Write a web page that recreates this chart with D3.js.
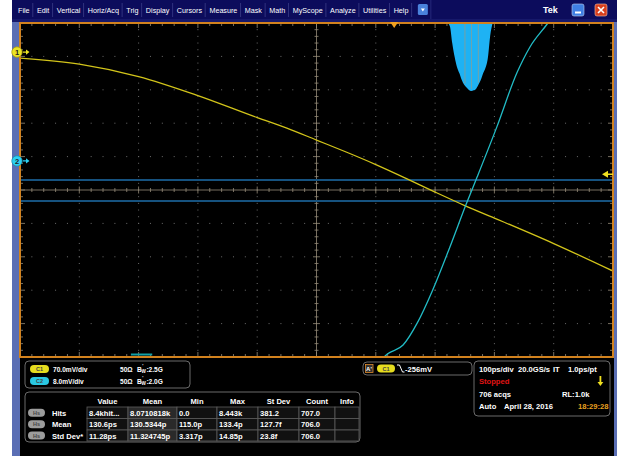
<!DOCTYPE html>
<html>
<head>
<meta charset="utf-8">
<script src="https://cdn.jsdelivr.net/npm/d3@7"></script>
<style>
  body { margin: 0; background: #fff; }
  svg  { display: block; font-family: "Liberation Sans", Arial, sans-serif; }
</style>
</head>
<body>
<svg id="scope" width="622" height="456"></svg>
<script>
// ---- data ----
const menuItems = ["File","Edit","Vertical","Horiz/Acq","Trig","Display","Cursors","Measure","Mask","Math","MyScope","Analyze","Utilities","Help"];

// time in ps from screen centre, level in mV
const ch1Time = [-500,-400,-300,-200,-100,-50,0,50,100,150,200,250,300,400,500];
const ch1Volt = [-12.6,-25.1,-51.3,-91.2,-137.3,-159.3,-184.4,-209.5,-235.8,-264.1,-293.4,-321.7,-347.9,-401.4,-459.0];
const ch2Time = [110,120,146,170,196,225,252,271,304,338,360,389,400];
const ch2Volt = [-47.5,-46.2,-44.1,-38.8,-30.9,-20.6,-10.5,-3.8,8.1,21.1,27.3,32.8,35.0];

// timing histogram (hangs from the top edge)
const histTime = [221,225,229,233,237,241,245,249,253,257,261,265,269,273,277,281,285,289,293,297];
const histHits = [0,420,2530,4220,5490,6250,7090,7680,8020,8320,8443,8360,8190,7680,7090,6250,5570,4310,1520,0];
const histMeanPs = 130.6, histSdPs = 11.28;

const channels = [
  { name: "C1", scale: "70.0mV/div", imp: "50Ω", bw: "2.5G", color: "#e6dc1e" },
  { name: "C2", scale: "8.0mV/div",  imp: "50Ω", bw: "2.0G", color: "#2ac8e2" }
];
const measCols = ["Value","Mean","Min","Max","St Dev","Count","Info"];
const measRows = ["Hits","Mean","Std Dev*"];
const measVals = [
  ["8.4khit...","8.0710818k","0.0","8.443k","381.2","707.0",""],
  ["130.6ps","130.5344p","115.0p","133.4p","127.7f","706.0",""],
  ["11.28ps","11.324745p","3.317p","14.85p","23.8f","706.0",""]
];
const trigLevel = -256;   // mV on C1
const trigTime  = 131;    // ps
const ch1Pos = 4.13, ch2Pos = 0.87;   // divisions
const ch1Div = 70, ch2Div = 8;        // mV/div
const histBox = [0.3, -0.33];         // divisions

// ---- layout ----
const svg = d3.select("#scope");
const gx0 = 20, gx1 = 613, gy0 = 23, gy1 = 357;
const x   = d3.scaleLinear().domain([-500, 500]).range([gx0, gx1]);
const dv  = d3.scaleLinear().domain([-5, 5]).range([gy1, gy0]);
const y1  = v => dv(v / ch1Div + ch1Pos);
const y2  = v => dv(v / ch2Div + ch2Pos);
const hLen = d3.scaleLinear().domain([0, d3.max(histHits)]).range([0, 68]);

// screen frame
svg.append("rect").attr("x", 12).attr("y", 0).attr("width", 605).attr("height", 456).attr("fill", "#5a6eb4");
svg.append("rect").attr("x", 20).attr("y", 357).attr("width", 594).attr("height", 99).attr("fill", "#000");
svg.append("rect").attr("x", 12).attr("y", 0).attr("width", 605).attr("height", 22).attr("fill", "#16186a");
svg.append("rect").attr("x", 12).attr("y", 0).attr("width", 605).attr("height", 19).attr("fill", "#0c0c5c");

// menu bar
const menu = svg.append("g").attr("font-size", 7.2).attr("fill", "#fff");
let mx = 18;
menuItems.forEach(m => {
  const t = menu.append("text").attr("x", mx).attr("y", 12.5).text(m);
  const w = t.node().getComputedTextLength();
  const sx = mx + w + 3.2;
  menu.append("line").attr("x1", sx).attr("x2", sx).attr("y1", 3).attr("y2", 17)
    .attr("stroke", "#3a3c88").attr("stroke-width", 0.8);
  mx = sx + 4.2;
});
svg.append("rect").attr("x", mx + 2).attr("y", 4).attr("width", 10).attr("height", 11).attr("rx", 1.5).attr("fill", "#4a82dc");
svg.append("path").attr("d", `M${mx + 5},8.5 L${mx + 9},8.5 L${mx + 7},11.5 Z`).attr("fill", "#fff");
svg.append("line").attr("x1", mx + 15).attr("x2", mx + 15).attr("y1", 0).attr("y2", 19).attr("stroke", "#26287a");
svg.append("text").attr("x", 543).attr("y", 13).attr("font-size", 9).attr("font-weight", "bold").attr("fill", "#fff").text("Tek");
svg.append("rect").attr("x", 572).attr("y", 4).attr("width", 12).attr("height", 12).attr("rx", 2).attr("fill", "#3f7fe2").attr("stroke", "#bcd0f4").attr("stroke-width", 0.6);
svg.append("rect").attr("x", 575).attr("y", 11.5).attr("width", 6).attr("height", 2).attr("fill", "#fff");
svg.append("rect").attr("x", 595).attr("y", 4).attr("width", 12).attr("height", 12).attr("rx", 2).attr("fill", "#d8401e").attr("stroke", "#f4c0a8").attr("stroke-width", 0.6);
svg.append("path").attr("d", "M598,7 L604,13 M604,7 L598,13").attr("stroke", "#fff").attr("stroke-width", 1.6);

// graticule
svg.append("rect").attr("x", gx0).attr("y", gy0).attr("width", gx1 - gx0).attr("height", gy1 - gy0).attr("fill", "#000");
const grid = svg.append("g");
const minorX = d3.range(-500, 500.1, 20);
const minorY = d3.range(-5, 5.01, 0.2);
// dotted division lines
d3.range(-400, 401, 100).filter(t => t !== 0).forEach(t => {
  grid.selectAll(null).data(minorY).join("rect")
    .attr("x", x(t) - 0.5).attr("y", d => dv(d) - 0.5).attr("width", 1).attr("height", 1).attr("fill", "#6c6c6c");
});
d3.range(-4, 5, 1).filter(d => d !== 0).forEach(d => {
  grid.selectAll(null).data(minorX).join("rect")
    .attr("x", t => x(t) - 0.5).attr("y", dv(d) - 0.5).attr("width", 1).attr("height", 1).attr("fill", "#6c6c6c");
});
// centre cross with ticks
const gc = "#958c78";
grid.append("line").attr("x1", gx0).attr("x2", gx1).attr("y1", dv(0)).attr("y2", dv(0)).attr("stroke", gc).attr("stroke-width", 0.8);
grid.append("line").attr("x1", x(0)).attr("x2", x(0)).attr("y1", gy0).attr("y2", gy1).attr("stroke", gc).attr("stroke-width", 0.8);
const isMajX = t => Math.abs(t % 100) < 1e-6;
const isMajY = d => Math.abs(Math.round(d) - d) < 1e-6;
grid.selectAll(null).data(minorX).join("line")
  .attr("x1", x).attr("x2", x)
  .attr("y1", t => dv(0) - (isMajX(t) ? 3.5 : 2)).attr("y2", t => dv(0) + (isMajX(t) ? 3.5 : 2))
  .attr("stroke", gc).attr("stroke-width", 0.8);
grid.selectAll(null).data(minorY).join("line")
  .attr("y1", dv).attr("y2", dv)
  .attr("x1", d => x(0) - (isMajY(d) ? 3.5 : 2)).attr("x2", d => x(0) + (isMajY(d) ? 3.5 : 2))
  .attr("stroke", gc).attr("stroke-width", 0.8);
// edge ticks
grid.selectAll(null).data(minorX).join("line")
  .attr("x1", x).attr("x2", x).attr("y1", gy0).attr("y2", t => gy0 + (isMajX(t) ? 5 : 3))
  .attr("stroke", gc).attr("stroke-width", 0.8);
grid.selectAll(null).data(minorX).join("line")
  .attr("x1", x).attr("x2", x).attr("y1", gy1).attr("y2", t => gy1 - (isMajX(t) ? 5 : 3))
  .attr("stroke", gc).attr("stroke-width", 0.8);
grid.selectAll(null).data(minorY).join("line")
  .attr("y1", dv).attr("y2", dv).attr("x1", gx0).attr("x2", d => gx0 + (isMajY(d) ? 5 : 3))
  .attr("stroke", gc).attr("stroke-width", 0.8);
grid.selectAll(null).data(minorY).join("line")
  .attr("y1", dv).attr("y2", dv).attr("x1", gx1).attr("x2", d => gx1 - (isMajY(d) ? 5 : 3))
  .attr("stroke", gc).attr("stroke-width", 0.8);

svg.append("clipPath").attr("id", "clip").append("rect")
  .attr("x", gx0).attr("y", gy0).attr("width", gx1 - gx0).attr("height", gy1 - gy0);
const plot = svg.append("g").attr("clip-path", "url(#clip)");

// histogram box limits
histBox.forEach(d => {
  plot.append("line").attr("x1", gx0).attr("x2", gx1).attr("y1", dv(d)).attr("y2", dv(d))
    .attr("stroke", "#16527f").attr("stroke-width", 1.8);
});

// histogram
const hist = histTime.map((t, i) => ({ t, h: histHits[i] }));
plot.append("path").datum(hist)
  .attr("d", d3.area().x(d => x(d.t)).y0(gy0).y1(d => gy0 + hLen(d.h)).curve(d3.curveMonotoneX))
  .attr("fill", "#1eb2f4");
const hAt = t => {
  const i = d3.bisectLeft(histTime, t);
  const a = i - 1, f = (t - histTime[a]) / (histTime[i] - histTime[a]);
  return histHits[a] + f * (histHits[i] - histHits[a]);
};
[-1, 0, 1].forEach(k => {
  const t = trigTime + histMeanPs + k * histSdPs;
  plot.append("line").attr("x1", x(t)).attr("x2", x(t)).attr("y1", gy0).attr("y2", gy0 + hLen(hAt(t)) - 2)
    .attr("stroke", "#b49870").attr("stroke-width", 0.7).attr("opacity", 0.85);
});

// traces
const line = d3.line().curve(d3.curveMonotoneX);
plot.append("path")
  .attr("d", line(ch1Time.map((t, i) => [x(t), y1(ch1Volt[i])])))
  .attr("fill", "none").attr("stroke", "#d2c41a").attr("stroke-width", 1.3);
plot.append("path")
  .attr("d", line(ch2Time.map((t, i) => [x(t), y2(ch2Volt[i])])))
  .attr("fill", "none").attr("stroke", "#22bcc6").attr("stroke-width", 1.3);
svg.append("rect").attr("x", x(-313)).attr("y", gy1 - 3.5).attr("width", x(-277) - x(-313)).attr("height", 2).attr("fill", "#12a0a4");

// border
svg.append("rect").attr("x", gx0).attr("y", gy0).attr("width", gx1 - gx0).attr("height", gy1 - gy0)
  .attr("fill", "none").attr("stroke", "#d2821e").attr("stroke-width", 2);

// markers
svg.append("path").attr("d", `M${x(trigTime) - 4},${gy0 - 1} L${x(trigTime) + 4},${gy0 - 1} L${x(trigTime)},${gy0 + 5} Z`).attr("fill", "#f0a020");
const tly = y1(trigLevel);
svg.append("path").attr("d", `M602,${tly} L608,${tly - 3.5} L608,${tly + 3.5} Z M607,${tly - 0.8} L613,${tly - 0.8} L613,${tly + 0.8} L607,${tly + 0.8} Z`).attr("fill", "#f0e020");
[[ch1Pos, "1", "#ece424", "#a89a10"], [ch2Pos, "2", "#2cd0f2", "#1890b0"]].forEach(([p, lbl, c, s]) => {
  const cy = dv(p);
  svg.append("circle").attr("cx", 17).attr("cy", cy).attr("r", 5.2).attr("fill", c).attr("stroke", s).attr("stroke-width", 0.8);
  svg.append("text").attr("x", 17).attr("y", cy + 2.6).attr("text-anchor", "middle").attr("font-size", 7.5).attr("font-weight", "bold").attr("fill", "#222").text(lbl);
  svg.append("path").attr("d", `M23,${cy - 0.6} L26,${cy - 0.6} L26,${cy - 2.6} L29.5,${cy} L26,${cy + 2.6} L26,${cy + 0.6} L23,${cy + 0.6} Z`).attr("fill", c);
});

// ---- readout panels ----
const panel = (px, py, w, h) => svg.append("rect").attr("x", px).attr("y", py).attr("width", w).attr("height", h)
  .attr("rx", 4).attr("fill", "#000").attr("stroke", "#6a6a6a").attr("stroke-width", 1);
const badge = (bx, by, w, txt, c) => {
  svg.append("rect").attr("x", bx).attr("y", by - 4).attr("width", w).attr("height", 8).attr("rx", 4).attr("fill", c);
  svg.append("text").attr("x", bx + w / 2).attr("y", by + 2).attr("text-anchor", "middle")
    .attr("font-size", 5.5).attr("font-weight", "bold").attr("fill", "#444").text(txt);
};
const txt = (tx, ty, s, c = "#fff", anchor = "start", fs = 7.6) => svg.append("text").attr("x", tx).attr("y", ty)
  .attr("font-size", fs).attr("font-weight", "bold").attr("fill", c).attr("text-anchor", anchor).text(s);

// channels
panel(25, 361, 165, 27);
channels.forEach((c, i) => {
  const cy = 369 + i * 12;
  badge(30, cy, 19, c.name, c.color);
  txt(53, cy + 2.5, c.scale, "#fff", "start", 6.6);
  txt(120, cy + 2.5, c.imp, "#fff", "start", 6.6);
  txt(137, cy + 2.5, "B", "#fff", "start", 6.6);
  txt(141.6, cy + 4, "W", "#fff", "start", 4.6);
  txt(142.2, cy - 0.6, "ʹ", "#fff", "start", 4.6);
  txt(146.4, cy + 2.5, ":" + c.bw, "#fff", "start", 6.6);
});

// measurements
panel(25, 392, 335, 50);
const colX = [87, 128, 177, 217, 258, 299, 335, 359];
const rowY = [407, 418.5, 430, 441];
measCols.forEach((c, j) => txt((colX[j] + colX[j + 1]) / 2, 404, c, "#fff", "middle"));
measRows.forEach((r, i) => {
  const cy = (rowY[i] + rowY[i + 1]) / 2;
  badge(28, cy, 17, "Hs", "#9c9c9c");
  txt(52, cy + 3, r);
  measVals[i].forEach((v, j) => {
    svg.append("rect").attr("x", colX[j]).attr("y", rowY[i]).attr("width", colX[j + 1] - colX[j]).attr("height", rowY[i + 1] - rowY[i])
      .attr("fill", j === 1 ? "#2a2a2a" : "#111").attr("stroke", "#5c5c5c").attr("stroke-width", 0.8);
    txt(colX[j] + 2, cy + 3, v);
  });
});

// trigger
panel(363, 362, 109, 13);
svg.append("rect").attr("x", 365.5).attr("y", 364.5).attr("width", 7.5).attr("height", 8).attr("fill", "#333").attr("stroke", "#e08a2a").attr("stroke-width", 0.8);
svg.append("text").attr("x", 369).attr("y", 371).attr("text-anchor", "middle").attr("font-size", 6).attr("font-weight", "bold").attr("fill", "#fff").text("A'");
badge(377, 368.5, 18, "C1", "#e6dc1e");
svg.append("path").attr("d", "M397,365 L399.5,365 L402.5,372 L404.5,372").attr("fill", "none").attr("stroke", "#fff").attr("stroke-width", 1);
txt(405, 371.5, "-256mV");

// horizontal / acquisition
panel(474, 361, 136, 55);
txt(479, 372, "100ps/div");
txt(518, 372, "20.0GS/s");
txt(553, 372, "IT");
txt(568, 372, "1.0ps/pt");
txt(479, 384, "Stopped", "#e01414");
svg.append("rect").attr("x", 599.5).attr("y", 376).attr("width", 1.8).attr("height", 7).attr("fill", "#f0e020");
svg.append("path").attr("d", "M597.5,382 L603.3,382 L600.4,386 Z").attr("fill", "#f0e020");
txt(479, 396.5, "706 acqs");
txt(562, 396.5, "RL:1.0k");
txt(479, 409, "Auto");
txt(504, 409, "April 28, 2016");
txt(578, 409, "18:29:28", "#e8a020");
</script>
</body>
</html>
